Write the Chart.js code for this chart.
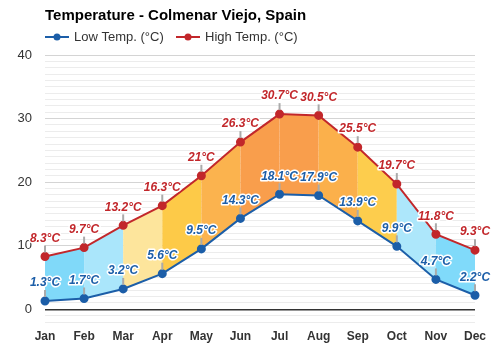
<!DOCTYPE html>
<html><head><meta charset="utf-8">
<script src="https://cdn.jsdelivr.net/npm/chart.js@4.4.0/dist/chart.umd.min.js"></script>
<style>html,body{margin:0;padding:0;background:#fff}#wrap{width:500px;height:350px}</style>
</head><body><div id="wrap"><canvas id="c" width="500" height="350"></canvas></div>
<script>
const chartTitle = 'Temperature - Colmenar Viejo, Spain';
const months = ['Jan','Feb','Mar','Apr','May','Jun','Jul','Aug','Sep','Oct','Nov','Dec'];
const lowTemps = [1.3, 1.7, 3.2, 5.6, 9.5, 14.3, 18.1, 17.9, 13.9, 9.9, 4.7, 2.2];
const highTemps = [8.3, 9.7, 13.2, 16.3, 21, 26.3, 30.7, 30.5, 25.5, 19.7, 11.8, 9.3];
const seriesNames = ['Low Temp. (°C)', 'High Temp. (°C)'];
const yLabelValues = [0, 10, 20, 30, 40];
const bandColors = ['#80d9f9','#aae6fb','#fde59c','#fdca48','#fbb34e','#f99e4c','#f99e4c','#fbb04b','#fdcd4d','#ade7fb','#80dafa'];
const lowColor = '#1c5ea8';
const highColor = '#c2272b';
const FONT = '"Liberation Sans", Arial, sans-serif';

const bandPlugin = {
  id: 'bands',
  beforeDatasetsDraw(chart) {
    const lo = chart.getDatasetMeta(0).data, hi = chart.getDatasetMeta(1).data;
    const ctx = chart.ctx;
    ctx.save();
    for (let i = 0; i < lo.length - 1; i++) {
      ctx.beginPath();
      ctx.moveTo(hi[i].x, hi[i].y);
      ctx.lineTo(hi[i + 1].x, hi[i + 1].y);
      ctx.lineTo(lo[i + 1].x, lo[i + 1].y);
      ctx.lineTo(lo[i].x, lo[i].y);
      ctx.closePath();
      ctx.fillStyle = bandColors[i];
      ctx.fill();
    }
    ctx.restore();
  }
};

const labelPlugin = {
  id: 'pointLabels',
  afterDatasetsDraw(chart) {
    const ctx = chart.ctx;
    ctx.save();
    chart.data.datasets.forEach((ds, di) => {
      const meta = chart.getDatasetMeta(di);
      meta.data.forEach((pt, i) => {
        ctx.strokeStyle = '#aaaaaa';
        ctx.lineWidth = 2;
        ctx.beginPath();
        ctx.moveTo(pt.x, pt.y - 4);
        ctx.lineTo(pt.x, pt.y - 11);
        ctx.stroke();
      });
    });
    chart.data.datasets.forEach((ds, di) => {
      const meta = chart.getDatasetMeta(di);
      meta.data.forEach((pt, i) => {
        const txt = ds.data[i] + '°C';
        ctx.font = 'italic bold 12px ' + FONT;
        ctx.textAlign = 'center';
        ctx.textBaseline = 'middle';
        ctx.lineJoin = 'round';
        ctx.lineWidth = 3;
        ctx.strokeStyle = '#ffffff';
        ctx.strokeText(txt, pt.x, pt.y - 18);
        ctx.fillStyle = ds.borderColor;
        ctx.fillText(txt, pt.x, pt.y - 18);
      });
    });
    ctx.restore();
  }
};

const headerPlugin = {
  id: 'header',
  afterDraw(chart) {
    const ctx = chart.ctx;
    ctx.save();
    ctx.fillStyle = '#000';
    ctx.font = 'bold 15px ' + FONT;
    ctx.textAlign = 'left';
    ctx.textBaseline = 'middle';
    ctx.fillText(chartTitle, 45, 16);
    const items = [[45, lowColor, seriesNames[0]], [176, highColor, seriesNames[1]]];
    items.forEach(([x, col, name]) => {
      ctx.strokeStyle = col;
      ctx.lineWidth = 2;
      ctx.beginPath();
      ctx.moveTo(x, 37);
      ctx.lineTo(x + 24, 37);
      ctx.stroke();
      ctx.fillStyle = col;
      ctx.beginPath();
      ctx.arc(x + 12, 37, 3.5, 0, Math.PI * 2);
      ctx.fill();
      ctx.fillStyle = '#333';
      ctx.font = '13px ' + FONT;
      ctx.fillText(name, x + 29, 37);
    });
    ctx.restore();
  }
};

new Chart(document.getElementById('c'), {
  type: 'line',
  data: {
    labels: months,
    datasets: [
      { label: seriesNames[0], data: lowTemps, borderColor: lowColor, backgroundColor: lowColor,
        borderWidth: 2, pointRadius: 3.5, pointBackgroundColor: lowColor, pointBorderColor: lowColor, tension: 0, fill: false },
      { label: seriesNames[1], data: highTemps, borderColor: highColor, backgroundColor: highColor,
        borderWidth: 2, pointRadius: 3.5, pointBackgroundColor: highColor, pointBorderColor: highColor, tension: 0, fill: false }
    ]
  },
  options: {
    responsive: false,
    devicePixelRatio: 1,
    animation: false,
    layout: { padding: { top: 55, right: 25, bottom: 6, left: 0 } },
    plugins: { legend: { display: false }, title: { display: false }, tooltip: { enabled: false } },
    scales: {
      x: {
        afterFit(scale) { scale.height = 22; },
        grid: { display: false },
        border: { display: false },
        ticks: { color: '#333', font: { family: FONT, size: 12, weight: 'bold' }, padding: -1, autoSkip: false, maxRotation: 0 }
      },
      y: {
        min: -2, max: 40,
        afterFit(scale) { scale.width = 45; },
        border: { display: false },
        grid: {
          drawTicks: false,
          color: c => c.tick.value === 0 ? '#333333' : (c.tick.value % 10 === 0 ? '#d4d4d4' : '#ececec'),
          lineWidth: c => c.tick.value === 0 ? 1.5 : 1
        },
        ticks: {
          stepSize: 1, autoSkip: false, maxTicksLimit: 100, padding: 13,
          color: '#333', font: { family: FONT, size: 13 },
          callback: v => yLabelValues.includes(v) ? String(v) : ''
        }
      }
    }
  },
  plugins: [bandPlugin, labelPlugin, headerPlugin]
});
</script></body></html>
